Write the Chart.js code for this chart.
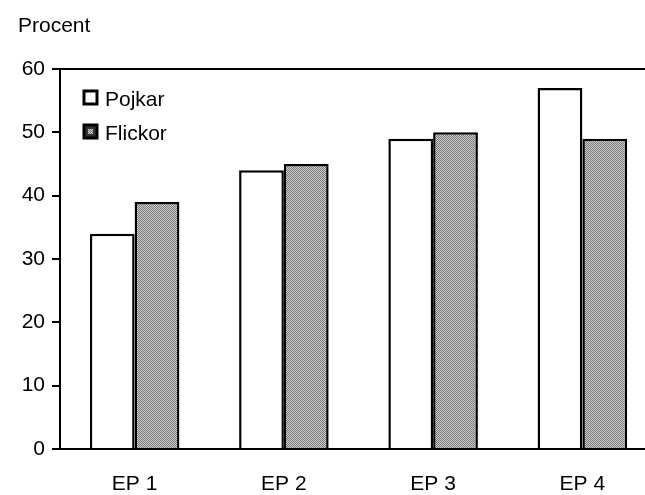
<!DOCTYPE html>
<html>
<head>
<meta charset="utf-8">
<script src="https://cdn.jsdelivr.net/npm/chart.js@4"></script>
<style>
  html, body { margin: 0; padding: 0; background: #fff; overflow: hidden; }
  #wrap { position: relative; width: 657px; height: 495px; }
</style>
</head>
<body>
<div id="wrap"><canvas id="chart" width="657" height="495"></canvas></div>
<script>
const categories = ["EP 1", "EP 2", "EP 3", "EP 4"];
const pojkar = [34, 44, 49, 57];
const flickor = [39, 45, 50, 49];
const yTicks = [0, 10, 20, 30, 40, 50, 60];

const FONT = "'Liberation Sans', Arial, Helvetica, sans-serif";
const FSIZE = 21;

// grey dither for Flickor bars
function makePattern() {
  const p = document.createElement("canvas");
  p.width = 2;
  p.height = 2;
  const c = p.getContext("2d");
  c.fillStyle = "#d0d0d0";
  c.fillRect(0, 0, 2, 2);
  c.fillStyle = "#767676";
  c.fillRect(0, 0, 1, 1);
  c.fillRect(1, 1, 1, 1);
  return c.createPattern(p, "repeat");
}

const ctx = document.getElementById("chart").getContext("2d");
const flickorFill = makePattern();

const titleAndLegend = {
  id: "titleAndLegend",
  afterDraw(chart) {
    const c = chart.ctx;
    c.save();
    c.font = FSIZE + "px " + FONT;
    c.fillStyle = "#000";
    c.textBaseline = "alphabetic";
    c.fillText("Procent", 18, 32);

    const items = chart.data.datasets;
    items.forEach((ds, i) => {
      const top = 91 + i * 34;
      c.fillStyle = i === 1 ? "#333" : ds.backgroundColor;
      c.fillRect(84, top, 13, 13);
      if (i === 1) {
        c.fillStyle = ds.backgroundColor;
        c.fillRect(88, top + 4, 5, 5);
      }
      c.lineWidth = 3;
      c.strokeStyle = "#000";
      c.strokeRect(84, top, 13, 13);
      c.fillStyle = "#000";
      c.fillText(ds.label, 105, top + 15);
    });
    c.restore();
  }
};

new Chart(ctx, {
  type: "bar",
  data: {
    labels: categories,
    datasets: [
      {
        label: "Pojkar",
        data: pojkar,
        backgroundColor: "#ffffff",
        borderColor: "#000",
        borderWidth: 2.5,
        borderSkipped: "bottom"
      },
      {
        label: "Flickor",
        data: flickor,
        backgroundColor: flickorFill,
        borderColor: "#000",
        borderWidth: 2.5,
        borderSkipped: "bottom"
      }
    ]
  },
  options: {
    responsive: false,
    animation: false,
    layout: { padding: { top: 69, right: 0, left: 0, bottom: 0 } },
    plugins: {
      legend: { display: false },
      title: { display: false },
      tooltip: { enabled: false }
    },
    datasets: {
      bar: { categoryPercentage: 0.6, barPercentage: 1.0 }
    },
    scales: {
      x: {
        grid: { display: false },
        border: { display: true, color: "#000", width: 2 },
        ticks: { color: "#000", font: { family: FONT, size: FSIZE }, padding: 15 },
        afterFit(scale) { scale.height = 46; }
      },
      y: {
        min: 0,
        max: 60,
        afterBuildTicks(scale) { scale.ticks = yTicks.map(v => ({ value: v })); },
        grid: {
          drawOnChartArea: true,
          color: c => (c.tick && c.tick.value === 60 ? "#000" : "rgba(0,0,0,0)"),
          tickColor: "#000",
          lineWidth: 2,
          tickLength: 8
        },
        border: { display: true, color: "#000", width: 2 },
        ticks: { color: "#000", font: { family: FONT, size: FSIZE }, padding: 7 },
        afterFit(scale) { scale.width = 60; }
      }
    }
  },
  plugins: [titleAndLegend]
});
</script>
</body>
</html>
